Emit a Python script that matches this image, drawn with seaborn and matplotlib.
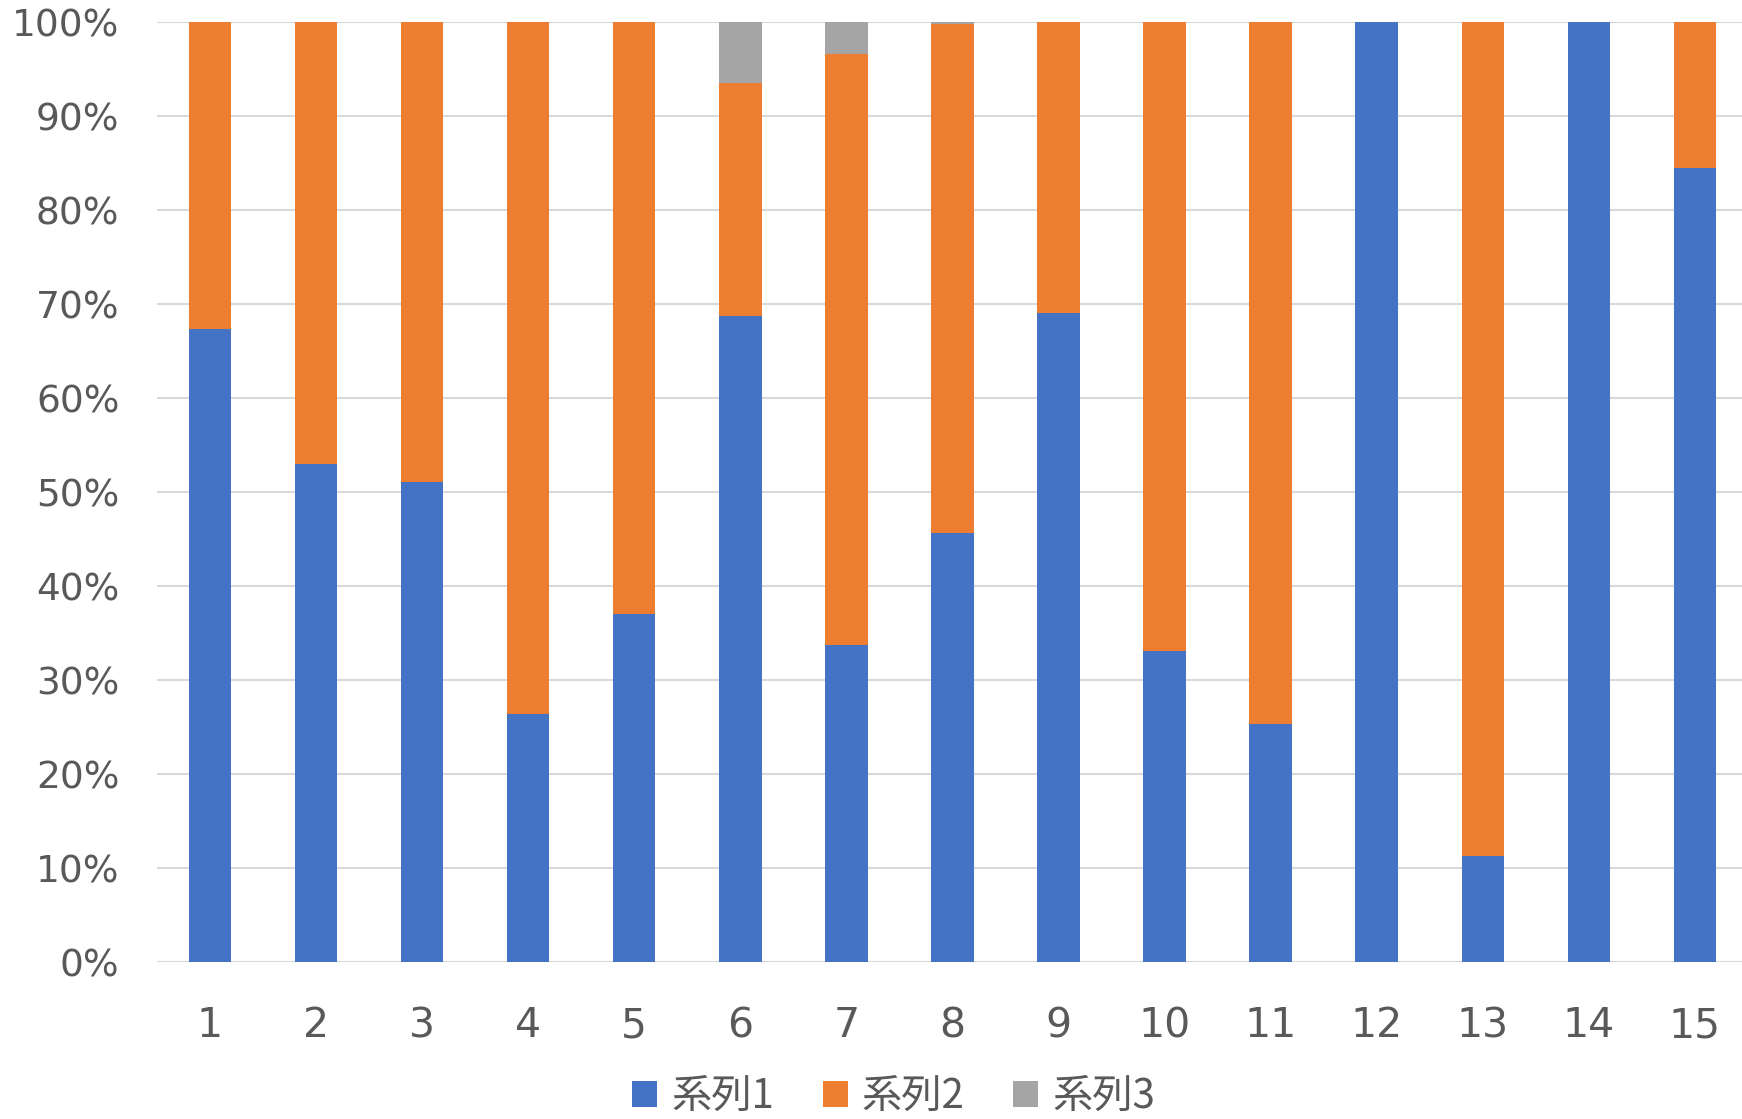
import numpy as np
import matplotlib
matplotlib.use("Agg")
import matplotlib.pyplot as plt
from matplotlib.ticker import FuncFormatter
from matplotlib.patches import Patch
import pandas as pd
import seaborn as sns

sns.set_theme(style="whitegrid")
plt.rcParams['font.family'] = ['DejaVu Sans', 'Noto Sans CJK JP']

# data (percent of each column)
categories = [str(i) for i in range(1, 16)]
series_names = ['系列1', '系列2', '系列3']
s1 = [67.4, 53.0, 51.1, 26.4, 37.0, 68.8, 33.7, 45.7, 69.1, 33.1, 25.3, 100.0, 11.3, 100.0, 84.5]
s2 = [32.6, 47.0, 48.9, 73.6, 63.0, 24.7, 62.9, 54.1, 30.9, 66.9, 74.7, 0.0, 88.7, 0.0, 15.5]
s3 = [0.0, 0.0, 0.0, 0.0, 0.0, 6.5, 3.4, 0.2, 0.0, 0.0, 0.0, 0.0, 0.0, 0.0, 0.0]
colors = ['#4472C4', '#ED7D31', '#A5A5A5']
text_color = '#595959'

df = pd.DataFrame({'cat': categories, '系列1': s1, '系列2': s2, '系列3': s3})

fig = plt.figure(figsize=(17.42, 11.19), dpi=100)
ax = fig.add_axes([0.0901, 0.1403, 0.9133, 0.8397])

bottom = np.zeros(len(categories))
for name, col in zip(series_names, colors):
	sns.barplot(data=df, x='cat', y=name, order=categories, color=col, width=0.4,
		bottom=bottom, saturation=1, ax=ax, linewidth=0)
	bottom = bottom + df[name].values

ax.set_xlim(-0.5, len(categories) - 0.5)
ax.set_ylim(0, 100)
ax.set_yticks(np.arange(0, 101, 10))
ax.yaxis.set_major_formatter(FuncFormatter(lambda v, p: f'{v:.0f}%'))
ax.set_axisbelow(True)
ax.grid(axis='y', color='#D9D9D9', linewidth=1.5)
ax.grid(axis='x', visible=False)
for sp in ax.spines.values():
	sp.set_visible(False)

ax.tick_params(axis='y', length=0, labelsize=27, labelcolor=text_color, pad=27)
ax.tick_params(axis='x', length=0, labelsize=29.5, labelcolor=text_color, pad=32)
ax.set_xlabel('')
ax.set_ylabel('')

handles = [Patch(facecolor=c, edgecolor='none') for c in colors]
fig.legend(handles, series_names, loc='center', bbox_to_anchor=(0.513, 0.02), ncol=3,
	frameon=False, prop={'family': ['Noto Sans CJK JP', 'DejaVu Sans'], 'size': 29},
	labelcolor=text_color, handlelength=0.62, handleheight=0.62, handletextpad=0.35, columnspacing=1.2,
	borderpad=0)

plt.savefig('out.png', dpi=100)
